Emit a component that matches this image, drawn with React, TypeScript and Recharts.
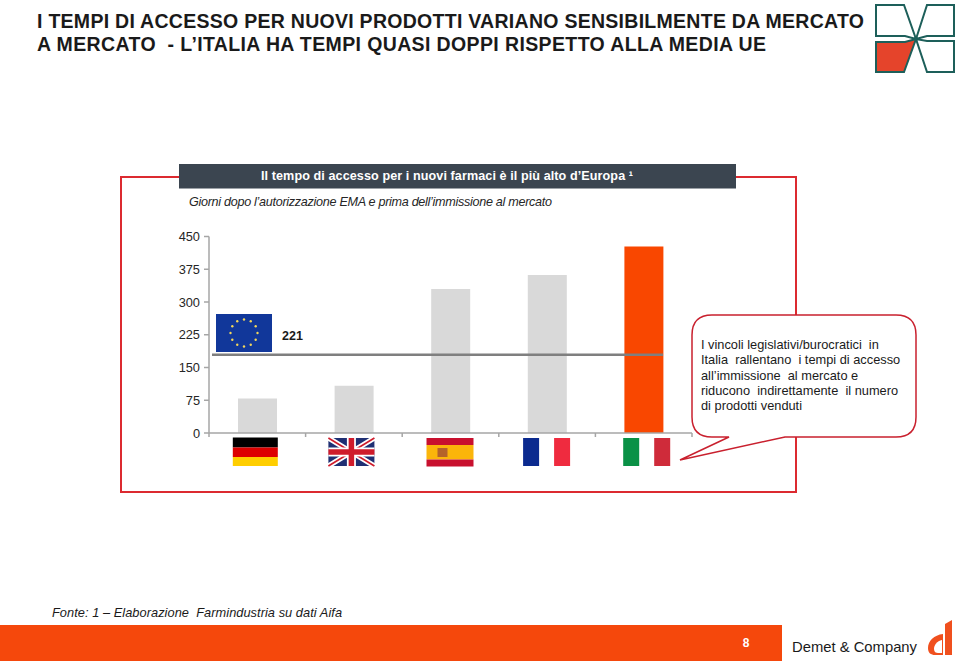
import { BarChart, Bar, Cell, XAxis, YAxis, ReferenceLine } from 'recharts'

const countries = ['Germania', 'Regno Unito', 'Spagna', 'Francia', 'Italia']
const days = [79, 108, 330, 362, 427]
const barColors = ['#d9d9d9', '#d9d9d9', '#d9d9d9', '#d9d9d9', '#f94700']
const yTicks = [0, 75, 150, 225, 300, 375, 450]
const bandEdges = [0, 1, 2, 3, 4, 5]
const euLineValue = 179
const euLabel = '221'
const calloutLines = [
  'I vincoli legislativi/burocratici  in',
  'Italia  rallentano  i tempi di accesso',
  'all’immissione  al mercato e',
  'riducono  indirettamente  il numero',
  'di prodotti venduti',
]

const data = countries.map((name, i) => ({ name, value: days[i] }))
const font = '"Liberation Sans", Arial, sans-serif'

function EmptyTick() {
  return <g />
}

function FlagTick({ x, y, payload }: any) {
  const name = payload.value
  const top = y - 4
  if (name === 'Germania') {
    return (
      <g transform={`translate(${x - 24.5},${top - 0.5})`}>
        <rect x={0} y={0} width={45} height={10} fill="#000" />
        <rect x={0} y={10} width={45} height={9.5} fill="#dd0000" />
        <rect x={0} y={19.5} width={45} height={9} fill="#ffce00" />
      </g>
    )
  }
  if (name === 'Regno Unito') {
    return (
      <g transform={`translate(${x - 25.5},${top})`}>
        <rect width={46} height={28} fill="#1f2f73" />
        <path d="M0 0L46 28M46 0L0 28" stroke="#fff" strokeWidth={5} />
        <path d="M0 0L46 28M46 0L0 28" stroke="#cf1b2b" strokeWidth={1.6} />
        <path d="M23 0V28M0 14H46" stroke="#fff" strokeWidth={9} />
        <path d="M23 0V28M0 14H46" stroke="#cf1b2b" strokeWidth={5.5} />
      </g>
    )
  }
  if (name === 'Spagna') {
    return (
      <g transform={`translate(${x - 24},${top})`}>
        <rect width={47} height={7} fill="#c8102e" />
        <rect y={7} width={47} height={14.5} fill="#fbb50a" />
        <rect y={21.5} width={47} height={7} fill="#c8102e" />
        <rect x={11} y={10} width={10} height={9} fill="#b5622a" />
      </g>
    )
  }
  if (name === 'Francia') {
    return (
      <g transform={`translate(${x - 24},${top})`}>
        <rect width={16} height={28} fill="#0b2a8f" />
        <rect x={31} width={16} height={28} fill="#ef2b3f" />
      </g>
    )
  }
  return (
    <g transform={`translate(${x - 20.5},${top})`}>
      <rect width={16} height={28} fill="#0a9146" />
      <rect x={31} width={16} height={28} fill="#cf2b3a" />
    </g>
  )
}

function EuLine(props: any) {
  return <line x1={212} x2={663} y1={props.y1} y2={props.y2} stroke="#7f7f7f" strokeWidth={2.5} />
}

function EuFlag() {
  const stars = Array.from({ length: 12 }, (_, i) => (i * Math.PI) / 6)
  return (
    <g>
      <rect x={216} y={314} width={56} height={38} fill="#11379a" />
      {stars.map((a, i) => (
        <circle key={i} cx={244 + 13.5 * Math.sin(a)} cy={333 - 13.5 * Math.cos(a)} r={1.2} fill="#f4d75a" />
      ))}
    </g>
  )
}

export default function App() {
  return (
    <div style={{ position: 'absolute', left: 0, top: 0, width: 960, height: 666, background: '#fff', overflow: 'hidden' }}>
      <svg width={960} height={666} style={{ position: 'absolute', left: 0, top: 0 }} fontFamily={font}>
        <rect x={121} y={177} width={675} height={315} fill="none" stroke="#dc2a30" strokeWidth={2} />
      </svg>
      <div style={{ position: 'absolute', left: 0, top: 0 }}>
        <BarChart
          width={960}
          height={666}
          data={data}
          margin={{ top: 236.5, right: 268, bottom: 193, left: 150 }}
          barSize={39}
        >
          <XAxis
            xAxisId="cat"
            dataKey="name"
            height={39}
            axisLine={false}
            tickLine={false}
            tick={<FlagTick />}
            interval={0}
          />
          <XAxis
            xAxisId="a-edges"
            type="number"
            dataKey={() => 0}
            domain={[0, 5]}
            ticks={bandEdges}
            interval={0}
            tick={<EmptyTick />}
            height={1}
            tickSize={4}
            stroke="#a6a6a6"
            strokeWidth={1.5}
            allowDataOverflow
          />
          <YAxis
            width={59}
            domain={[0, 450]}
            ticks={yTicks}
            interval={0}
            tickSize={5}
            tickMargin={4}
            stroke="#a6a6a6"
            strokeWidth={1.5}
            tick={{ fill: '#262626', fontSize: 12.8, fontFamily: font }}
          />
          <Bar xAxisId="cat" dataKey="value" isAnimationActive={false}>
            {data.map((d, i) => (
              <Cell key={d.name} fill={barColors[i]} />
            ))}
          </Bar>
          <ReferenceLine xAxisId="cat" y={euLineValue} shape={<EuLine />} />
        </BarChart>
      </div>
      <svg width={960} height={666} style={{ position: 'absolute', left: 0, top: 0, pointerEvents: 'none' }} fontFamily={font}>
        <text x={37} y={28} fontSize={19.5} fontWeight="bold" fill="#1a1a1a" textLength={827}>
          I TEMPI DI ACCESSO PER NUOVI PRODOTTI VARIANO SENSIBILMENTE DA MERCATO
        </text>
        <text x={37} y={51} fontSize={19.5} fontWeight="bold" fill="#1a1a1a" textLength={729} xmlSpace="preserve">
          A MERCATO  - L’ITALIA HA TEMPI QUASI DOPPI RISPETTO ALLA MEDIA UE
        </text>

        <path d="M876 5H904L916 39L905 36H876Z" fill="#fff" stroke="#1d5f5a" strokeWidth={2} />
        <path d="M954 5H927L916 39L927 36H954Z" fill="#fff" stroke="#1d5f5a" strokeWidth={2} />
        <path d="M876 42H905L916 39L904 72H876Z" fill="#e5442b" stroke="#1d5f5a" strokeWidth={2} />
        <path d="M954 41H927L916 39L927 72H954Z" fill="#fff" stroke="#1d5f5a" strokeWidth={2} />

        <rect x={179} y={164} width={557} height={24.5} fill="#3b4550" />
        <text x={261} y={180} fontSize={12.6} fontWeight="bold" fill="#fff" textLength={372}>
          Il tempo di accesso per i nuovi farmaci è il più alto d’Europa ¹
        </text>
        <text x={189} y={206} fontSize={12.6} fontStyle="italic" fill="#262626" textLength={363}>
          Giorni dopo l’autorizzazione EMA e prima dell’immissione al mercato
        </text>

        <EuFlag />
        <text x={282} y={340} fontSize={12.5} fontWeight="bold" fill="#1a1a1a">{euLabel}</text>

        <path
          d="M712 315H896Q916 315 916 335V417Q916 437 896 437H785L680 460L729 437H712Q692 437 692 417V335Q692 315 712 315Z"
          fill="#fff"
          stroke="#c9202e"
          strokeWidth={1.5}
        />
        {calloutLines.map((line, i) => (
          <text key={i} x={701} y={349 + i * 15.3} fontSize={12.8} fill="#1a1a1a" xmlSpace="preserve">
            {line}
          </text>
        ))}

        <text x={52} y={617} fontSize={12.8} fontStyle="italic" fill="#1a1a1a" xmlSpace="preserve" textLength={290}>
          Fonte: 1 – Elaborazione  Farmindustria su dati Aifa
        </text>
        <rect x={0} y={625} width={782} height={36} fill="#f5480c" />
        <text x={746} y={647} fontSize={12} fontWeight="bold" fill="#fff" textAnchor="middle">8</text>
        <text x={792} y={652} fontSize={14.8} fill="#1a1a1a">Demet &amp; Company</text>
        <path
          d="M945 624L952 620V655H945ZM943 634V655H935C931 655 928 653 928 648C928 641 934 635 943 634Z"
          fill="#f0501e"
        />
        <path d="M942 640C937 641 934 645 934 649C934 652 936 653 938 653H942Z" fill="#fff" />
      </svg>
    </div>
  )
}
